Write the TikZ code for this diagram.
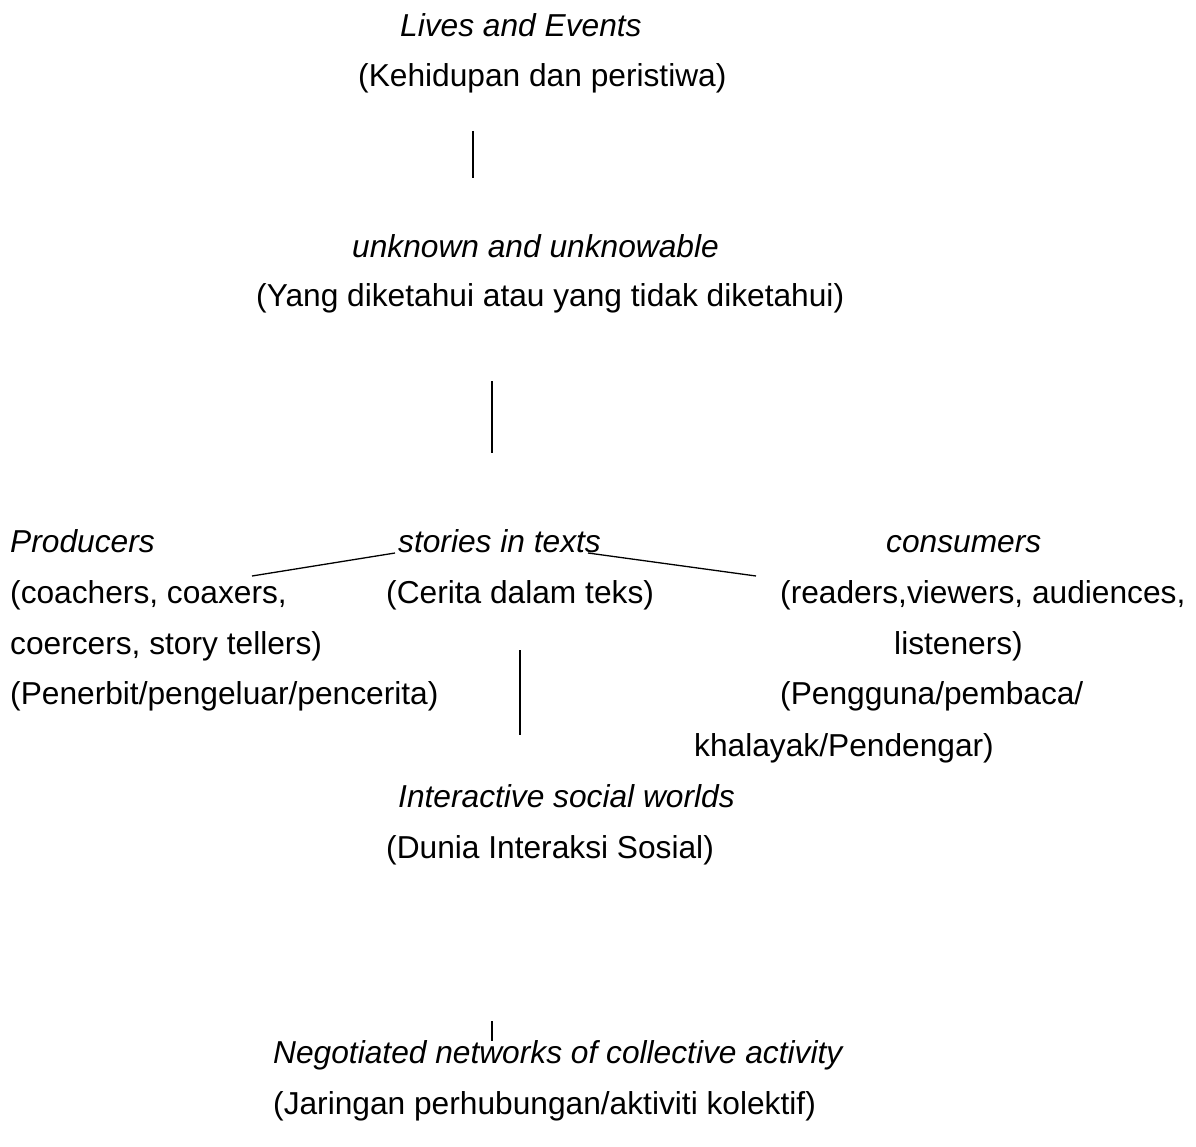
\documentclass[tikz,border=0pt]{standalone}
\usepackage{fontspec}
\setmainfont{Liberation Sans}
\begin{document}
\begin{tikzpicture}[x=1pt,y=-1pt,
  txt/.style={anchor=base west,inner sep=0pt,font=\fontsize{31.7}{38}\selectfont},
  itx/.style={txt,font=\fontsize{31.7}{38}\selectfont\itshape},
  conn/.style={line width=1.3pt,black}]
\useasboundingbox (0,0) rectangle (1196,1147);
\fill[white] (0,0) rectangle (1196,1147);
\node[itx] (lives) at (400,37) {Lives and Events};
\node[txt] (kehid) at (358,87) {(Kehidupan dan peristiwa)};
\node[itx] (unkn) at (352,258) {unknown and unknowable};
\node[txt] (yang) at (256,307) {(Yang diketahui atau yang tidak diketahui)};
\node[itx] (prod) at (10,552) {Producers};
\node[itx] (stor) at (398,552) {stories in texts};
\node[itx] (cons) at (886,552) {consumers};
\node[txt] (coach) at (10,603) {(coachers, coaxers,};
\node[txt] (cerita) at (386,603) {(Cerita dalam teks)};
\node[txt] (readers) at (780,603) {(readers,viewers, audiences,};
\node[txt] (coerc) at (10,654) {coercers, story tellers)};
\node[txt] (listen) at (894,654) {listeners)};
\node[txt] (penerb) at (10,704) {(Penerbit/pengeluar/pencerita)};
\node[txt] (pengg) at (780,704) {(Pengguna/pembaca/};
\node[txt] (khal) at (694,756) {khalayak/Pendengar)};
\node[itx] (inter) at (398,807) {Interactive social worlds};
\node[txt] (dunia) at (386,858) {(Dunia Interaksi Sosial)};
\node[itx] (nego) at (273,1063) {Negotiated networks of collective activity};
\node[txt] (jar) at (273,1114) {(Jaringan perhubungan/aktiviti kolektif)};
\coordinate (a1) at (473,131); \coordinate (a2) at (473,178);
\coordinate (b1) at (492,381); \coordinate (b2) at (492,453);
\coordinate (c1) at (252,576); \coordinate (c2) at (395,553);
\coordinate (d1) at (588,553); \coordinate (d2) at (756,576);
\coordinate (e1) at (520,650); \coordinate (e2) at (520,735);
\coordinate (f1) at (492,1021); \coordinate (f2) at (492,1041);
\draw[conn] (a1) -- (a2);
\draw[conn] (b1) -- (b2);
\draw[conn] (c1) -- (c2);
\draw[conn] (d1) -- (d2);
\draw[conn] (e1) -- (e2);
\draw[conn] (f1) -- (f2);
\end{tikzpicture}
\end{document}
